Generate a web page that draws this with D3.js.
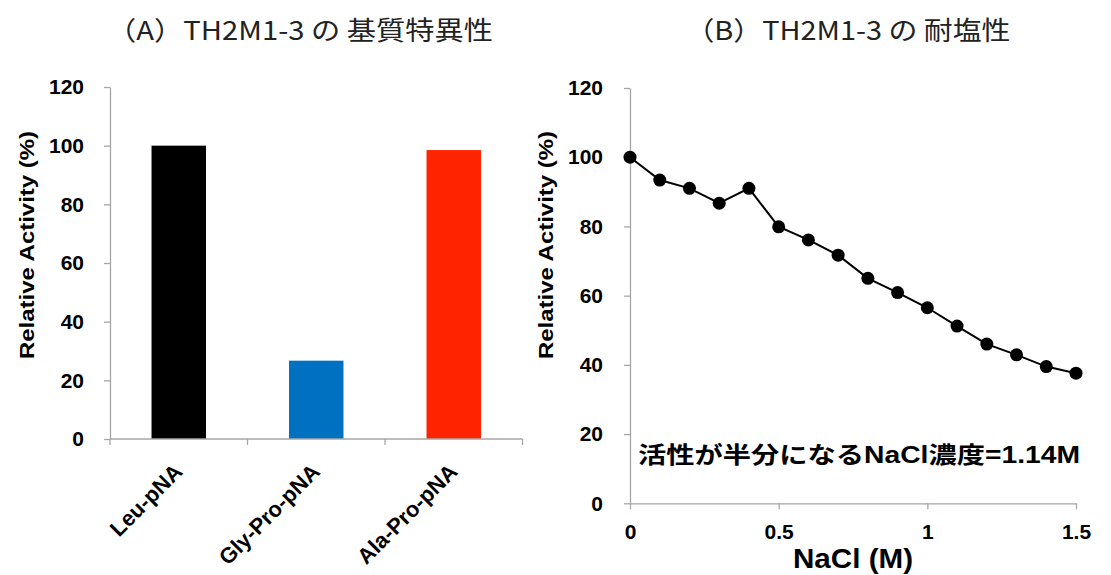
<!DOCTYPE html>
<html><head><meta charset="utf-8">
<script src="https://cdn.jsdelivr.net/npm/d3@7"></script>
<style>
html,body{margin:0;padding:0;background:#fff;}
svg{display:block;}
.bold{font-family:"Liberation Sans","Noto Sans CJK JP",Arial,sans-serif;font-weight:bold;fill:#000;}
.title{font-family:"Noto Sans CJK JP",sans-serif;font-weight:normal;fill:#222;}
</style></head><body>
<svg id="c" width="1111" height="575"></svg>
<script>
// ---- data ----
const titleA = "（A）TH2M1-3 の 基質特異性";
const titleB = "（B）TH2M1-3 の 耐塩性";
const substrates = ["Leu-pNA", "Gly-Pro-pNA", "Ala-Pro-pNA"];
const substrateActivity = [100, 26.7, 98.5];
const barColors = ["#000000", "#0070c0", "#ff2400"];
const naclConc = [0, 0.1, 0.2, 0.3, 0.4, 0.5, 0.6, 0.7, 0.8, 0.9, 1.0, 1.1, 1.2, 1.3, 1.4, 1.5];
const naclActivity = [100, 93.4, 91.0, 86.7, 91.0, 79.9, 76.1, 71.7, 65.0, 60.9, 56.5, 51.2, 46.0, 42.9, 39.5, 37.6];
const yTicks = [0, 20, 40, 60, 80, 100, 120];
const xTicksB = [0, 0.5, 1, 1.5];
const yLabel = "Relative Activity (%)";
const xLabelB = "NaCl (M)";
const note = "活性が半分になるNaCl濃度=1.14M";

const svg = d3.select("#c");
const axisColor = "#a6a6a6";

function styleAxis(g){
  g.select(".domain").attr("stroke", axisColor).attr("stroke-width", 1.3);
  g.selectAll(".tick line").attr("stroke", axisColor).attr("stroke-width", 1.3);
  g.selectAll(".tick text").attr("class","bold").attr("font-size", 21).attr("fill","#000");
}

// ---- Chart A ----
const yA = d3.scaleLinear().domain([0,120]).range([439, 87]);
const xA = d3.scaleBand().domain(substrates).range([110, 522.5]).paddingInner(0.604).paddingOuter(0.302);

svg.append("text").attr("class","title").attr("x",300).attr("y",40)
  .attr("text-anchor","middle").attr("font-size",26)
  .attr("textLength",386).attr("lengthAdjust","spacingAndGlyphs").text(titleA);

svg.append("g").selectAll("rect").data(substrates).join("rect")
  .attr("x", d => xA(d)).attr("width", xA.bandwidth())
  .attr("y", (d,i) => yA(substrateActivity[i]))
  .attr("height", (d,i) => yA(0) - yA(substrateActivity[i]))
  .attr("fill", (d,i) => barColors[i]);

const gyA = svg.append("g").attr("transform","translate(110,0)")
  .call(d3.axisLeft(yA).tickValues(yTicks).tickSize(6).tickPadding(20).tickSizeOuter(0));
styleAxis(gyA);

// x axis A: line with ticks at band boundaries
const bounds = substrates.map(d => xA(d) - xA.step()*xA.paddingInner()/2).concat([522.5]);
const gxA = svg.append("g");
gxA.append("line").attr("x1",110).attr("x2",522.5).attr("y1",yA(0)).attr("y2",yA(0))
  .attr("stroke",axisColor).attr("stroke-width",1.3);
gxA.selectAll("line.t").data(bounds).join("line").attr("class","t")
  .attr("x1",d=>d).attr("x2",d=>d).attr("y1",yA(0)).attr("y2",yA(0)+6)
  .attr("stroke",axisColor).attr("stroke-width",1.3);
gxA.selectAll("text").data(substrates).join("text").attr("class","bold")
  .attr("font-size",22).attr("text-anchor","end")
  .attr("transform", d => `translate(${xA(d)+xA.bandwidth()/2+5},${yA(0)+34}) rotate(-45)`)
  .text(d=>d);

svg.append("text").attr("class","bold").attr("font-size",21)
  .attr("text-anchor","middle")
  .attr("transform","translate(34,245) rotate(-90)")
  .attr("textLength",228).attr("lengthAdjust","spacingAndGlyphs").text(yLabel);

// ---- Chart B ----
const yB = d3.scaleLinear().domain([0,120]).range([503.3, 88]);
const xB = d3.scaleLinear().domain([0,1.5]).range([630, 1076]);

svg.append("text").attr("class","title").attr("x",848).attr("y",40)
  .attr("text-anchor","middle").attr("font-size",26)
  .attr("textLength",325).attr("lengthAdjust","spacingAndGlyphs").text(titleB);

const gyB = svg.append("g").attr("transform","translate(630,0)")
  .call(d3.axisLeft(yB).tickValues(yTicks).tickSize(6).tickPadding(21).tickSizeOuter(0));
styleAxis(gyB);

const gxB = svg.append("g").attr("transform",`translate(0,${yB(0)})`)
  .call(d3.axisBottom(xB).tickValues(xTicksB).tickFormat(d3.format("~g")).tickSize(6).tickPadding(15).tickSizeOuter(0));
styleAxis(gxB);

svg.append("text").attr("class","bold").attr("font-size",21)
  .attr("text-anchor","middle")
  .attr("transform","translate(553,245) rotate(-90)")
  .attr("textLength",228).attr("lengthAdjust","spacingAndGlyphs").text(yLabel);

svg.append("text").attr("class","bold").attr("font-size",27)
  .attr("x",853).attr("y",568).attr("text-anchor","middle")
  .attr("textLength",120).attr("lengthAdjust","spacingAndGlyphs").text(xLabelB);

const line = d3.line().x((d,i)=>xB(naclConc[i])).y(d=>yB(d));
svg.append("path").datum(naclActivity).attr("d",line)
  .attr("fill","none").attr("stroke","#000").attr("stroke-width",2);
svg.append("g").selectAll("circle").data(naclActivity).join("circle")
  .attr("cx",(d,i)=>xB(naclConc[i])).attr("cy",d=>yB(d)).attr("r",6.5).attr("fill","#000");

svg.append("text").attr("class","bold").attr("font-size",23)
  .attr("x",638).attr("y",463)
  .attr("textLength",442).attr("lengthAdjust","spacingAndGlyphs").text(note);
</script>
</body></html>
